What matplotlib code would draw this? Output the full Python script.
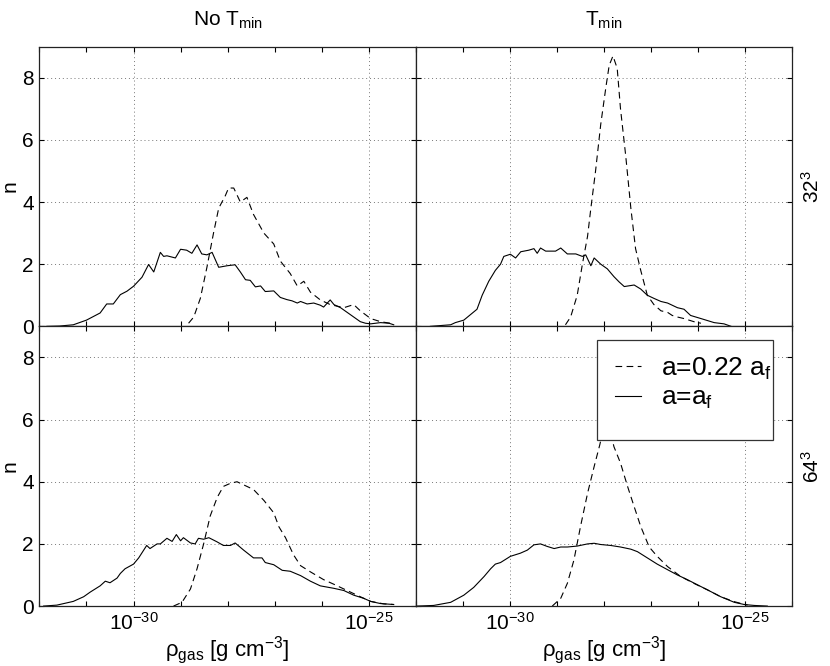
import numpy as np
import matplotlib.pyplot as plt
from matplotlib.patches import Rectangle
from matplotlib.lines import Line2D
from matplotlib.ticker import FixedLocator, LogFormatterMathtext, NullFormatter

plt.rcParams['font.family'] = ['Liberation Sans', 'DejaVu Sans']
plt.rcParams['mathtext.fontset'] = 'custom'
plt.rcParams['mathtext.rm'] = 'Liberation Sans'
plt.rcParams['mathtext.it'] = 'Liberation Sans:italic'

# log10(rho_gas) and n values
# 32^3, no T_min
x_tl_late = [-31.84, -31.57, -31.28, -31.0, -30.71, -30.57, -30.43, -30.28, -30.14, -30.0,
             -29.82, -29.68, -29.57, -29.43, -29.36, -29.29, -29.11, -29.0, -28.87, -28.76,
             -28.65, -28.55, -28.44, -28.33, -28.19, -28.01, -27.84, -27.73, -27.62, -27.52,
             -27.41, -27.3, -27.2, -27.02, -26.88, -26.74, -26.63, -26.52, -26.45, -26.31,
             -26.17, -26.03, -25.96, -25.82, -25.74, -25.6, -25.46, -25.32, -25.18, -25.07,
             -24.96, -24.75, -24.57, -24.47]
n_tl_late = [0.0, 0.01, 0.05, 0.2, 0.43, 0.72, 0.72, 1.02, 1.13, 1.29,
             1.58, 1.99, 1.75, 2.38, 2.25, 2.27, 2.2, 2.48, 2.45, 2.35,
             2.62, 2.33, 2.3, 2.38, 1.9, 1.95, 1.98, 1.75, 1.5, 1.48,
             1.27, 1.3, 1.12, 1.14, 0.93, 0.86, 0.82, 0.75, 0.8, 0.72,
             0.75, 0.68, 0.62, 0.85, 0.7, 0.6, 0.45, 0.3, 0.15, 0.1,
             0.08, 0.12, 0.1, 0.05]
x_tl_early = [-28.83, -28.72, -28.58, -28.44, -28.3, -28.19, -28.05, -27.98, -27.87, -27.73,
              -27.59, -27.45, -27.23, -27.02, -26.88, -26.67, -26.52, -26.38, -26.24, -26.03,
              -25.82, -25.53, -25.32, -25.18, -24.96, -24.75, -24.47]
n_tl_early = [0.1, 0.3, 0.9, 1.9, 3.0, 3.8, 4.2, 4.45, 4.45, 4.0,
              4.15, 3.6, 3.0, 2.65, 2.1, 1.7, 1.3, 1.45, 1.1, 0.85,
              0.7, 0.6, 0.7, 0.5, 0.25, 0.15, 0.08]

# 32^3, T_min
x_tr_late = [-31.69, -31.26, -31.16, -30.98, -30.7, -30.59, -30.45, -30.31, -30.2, -30.13,
             -29.99, -29.88, -29.77, -29.6, -29.49, -29.42, -29.35, -29.24, -29.03, -28.92,
             -28.78, -28.6, -28.46, -28.39, -28.28, -28.21, -28.07, -27.93, -27.79, -27.68,
             -27.57, -27.36, -27.22, -27.08, -26.94, -26.79, -26.65, -26.44, -26.3, -26.16,
             -25.94, -25.66, -25.45, -25.3]
n_tr_late = [0.0, 0.05, 0.12, 0.2, 0.55, 1.0, 1.45, 1.8, 2.0, 2.25,
             2.32, 2.2, 2.4, 2.45, 2.5, 2.35, 2.52, 2.42, 2.42, 2.52,
             2.33, 2.33, 2.25, 2.3, 1.95, 2.2, 2.0, 1.85, 1.6, 1.43,
             1.28, 1.33, 1.2, 1.0, 0.9, 0.8, 0.75, 0.6, 0.55, 0.35,
             0.25, 0.12, 0.08, 0.0]
x_tr_early = [-28.82, -28.71, -28.57, -28.46, -28.35, -28.28, -28.18, -28.07, -27.96, -27.89,
              -27.81, -27.72, -27.65, -27.54, -27.43, -27.33, -27.22, -27.08, -26.94, -26.79,
              -26.65, -26.55, -26.44, -26.3, -26.09, -25.94]
n_tr_early = [0.05, 0.3, 1.0, 2.0, 2.9, 3.8, 5.0, 6.5, 7.7, 8.4,
              8.7, 8.3, 7.0, 5.5, 3.8, 2.5, 1.8, 1.0, 0.7, 0.5,
              0.45, 0.35, 0.3, 0.25, 0.15, 0.1]

# 64^3, no T_min
x_bl_late = [-31.91, -31.63, -31.28, -31.06, -30.92, -30.71, -30.6, -30.5, -30.35, -30.28,
             -30.18, -30.0, -29.89, -29.72, -29.65, -29.5, -29.43, -29.29, -29.18, -29.09,
             -29.0, -28.94, -28.79, -28.69, -28.62, -28.51, -28.4, -28.23, -28.09, -27.94,
             -27.84, -27.66, -27.45, -27.27, -27.2, -27.02, -26.84, -26.67, -26.45, -26.24,
             -26.03, -25.74, -25.53, -25.32, -25.11, -24.96, -24.75, -24.47]
n_bl_late = [0.0, 0.03, 0.15, 0.3, 0.45, 0.65, 0.8, 0.75, 0.9, 1.05,
             1.2, 1.35, 1.55, 1.95, 1.85, 2.0, 2.0, 2.18, 2.08, 2.3,
             2.1, 2.2, 2.03, 2.0, 2.18, 2.15, 2.2, 2.07, 1.95, 1.95,
             2.03, 1.8, 1.55, 1.55, 1.4, 1.33, 1.15, 1.12, 0.98, 0.8,
             0.65, 0.57, 0.5, 0.35, 0.25, 0.15, 0.08, 0.05]
x_bl_early = [-29.15, -28.97, -28.79, -28.65, -28.51, -28.37, -28.22, -28.09, -27.94, -27.8,
              -27.66, -27.45, -27.23, -27.02, -26.91, -26.77, -26.6, -26.45, -26.24, -25.96,
              -25.74, -25.46, -25.18, -24.96, -24.68, -24.47]
n_bl_early = [0.0, 0.12, 0.55, 1.2, 2.0, 2.9, 3.5, 3.85, 3.95, 4.0,
              3.9, 3.75, 3.4, 3.0, 2.55, 2.2, 1.65, 1.3, 1.1, 0.85,
              0.7, 0.5, 0.3, 0.15, 0.07, 0.05]

# 64^3, T_min (peak of the dashed curve sits behind the legend)
x_br_late = [-31.97, -31.62, -31.26, -30.98, -30.77, -30.55, -30.41, -30.31, -30.2, -29.99,
             -29.78, -29.63, -29.49, -29.35, -29.21, -29.06, -28.92, -28.78, -28.57, -28.35,
             -28.21, -28.07, -27.86, -27.65, -27.43, -27.29, -27.08, -26.87, -26.65, -26.44,
             -26.23, -26.01, -25.8, -25.52, -25.23, -25.02, -24.81, -24.53]
n_br_late = [0.0, 0.02, 0.12, 0.35, 0.6, 0.95, 1.2, 1.35, 1.4, 1.6,
             1.7, 1.8, 1.97, 2.0, 1.92, 1.85, 1.9, 1.9, 1.93, 2.0,
             2.02, 1.98, 1.95, 1.9, 1.83, 1.75, 1.55, 1.35, 1.17, 1.0,
             0.85, 0.68, 0.52, 0.3, 0.12, 0.05, 0.02, 0.0]
x_br_early = [-29.1, -28.92, -28.78, -28.64, -28.5, -28.35, -28.21, -28.09, -28.0, -27.92,
              -27.79, -27.65, -27.5, -27.36, -27.22, -27.04, -26.87, -26.65, -26.37, -26.09,
              -25.8, -25.52, -25.23, -24.95]
n_br_early = [0.0, 0.25, 0.73, 1.48, 2.56, 3.63, 4.49, 5.19, 5.8, 6.0,
              5.13, 4.6, 3.85, 3.2, 2.56, 1.9, 1.6, 1.27, 0.95, 0.73,
              0.52, 0.3, 0.14, 0.03]

panels = [
    [(x_tl_early, n_tl_early, x_tl_late, n_tl_late), (x_tr_early, n_tr_early, x_tr_late, n_tr_late)],
    [(x_bl_early, n_bl_early, x_bl_late, n_bl_late), (x_br_early, n_br_early, x_br_late, n_br_late)],
]
col_titles = ['No T$_{\\rm min}$', 'T$_{\\rm min}$']
row_labels = ['32$^3$', '64$^3$']
dash = (0, (6, 4))

fig, axes = plt.subplots(2, 2, figsize=(8.3, 6.66), dpi=100)
fig.subplots_adjust(left=0.0475, right=0.9545, top=0.930, bottom=0.090, wspace=0, hspace=0)

for i in range(2):
    for j in range(2):
        ax = axes[i, j]
        xe, ne, xl, nl = panels[i][j]
        ax.plot(10.0 ** np.array(xe), ne, color='black', lw=0.8, linestyle=dash, dash_capstyle='butt')
        ax.plot(10.0 ** np.array(xl), nl, color='black', lw=0.8)
        ax.set_xscale('log')
        ax.set_xlim(1e-32, 1e-24)
        ax.set_ylim(0, 9)
        ax.xaxis.set_major_locator(FixedLocator([1e-30, 1e-25]))
        ax.xaxis.set_minor_locator(FixedLocator([10.0 ** k for k in range(-32, -23)]))
        ax.xaxis.set_minor_formatter(NullFormatter())
        ax.xaxis.set_major_formatter(LogFormatterMathtext())
        ax.set_yticks([0, 2, 4, 6, 8])
        ax.tick_params(which='both', direction='in', top=True, right=True, length=3.5,
                       width=0.8, labelsize=15, pad=4)
        ax.grid(True, which='major', linestyle=(0, (1, 3)), color='#777777', lw=0.7)
        for sp in ax.spines.values():
            sp.set_linewidth(0.9)
            sp.set_color('#222222')
        if i == 0:
            ax.tick_params(labelbottom=False)
            ax.set_title(col_titles[j], fontsize=15, pad=15)
        else:
            ax.set_xlabel('ρ$_{\\rm gas}$ [g cm$^{-3}$]', fontsize=16, labelpad=0)
        if j == 0:
            ax.set_ylabel('n', fontsize=15, labelpad=2)
        else:
            ax.tick_params(labelleft=False)
            ax.yaxis.set_label_position('right')
            ax.set_ylabel(row_labels[i], fontsize=15, labelpad=6)

# legend box in the lower right panel
ax = axes[1, 1]
ax.add_patch(Rectangle((0.482, 0.595), 0.468, 0.355, transform=ax.transAxes,
                       facecolor='white', edgecolor='#333333', lw=0.9, zorder=4))
handles = [Line2D([], [], color='black', lw=0.8, linestyle=dash),
           Line2D([], [], color='black', lw=0.8)]
leg = ax.legend(handles, ['a=0.22 a$_{\\rm f}$', 'a=a$_{\\rm f}$'], loc='upper left',
                bbox_to_anchor=(0.465, 0.98), frameon=False, fontsize=19,
                handlelength=1.0, handletextpad=0.75, labelspacing=0.15)
leg.set_zorder(5)

fig.savefig('out.png', dpi=100)
